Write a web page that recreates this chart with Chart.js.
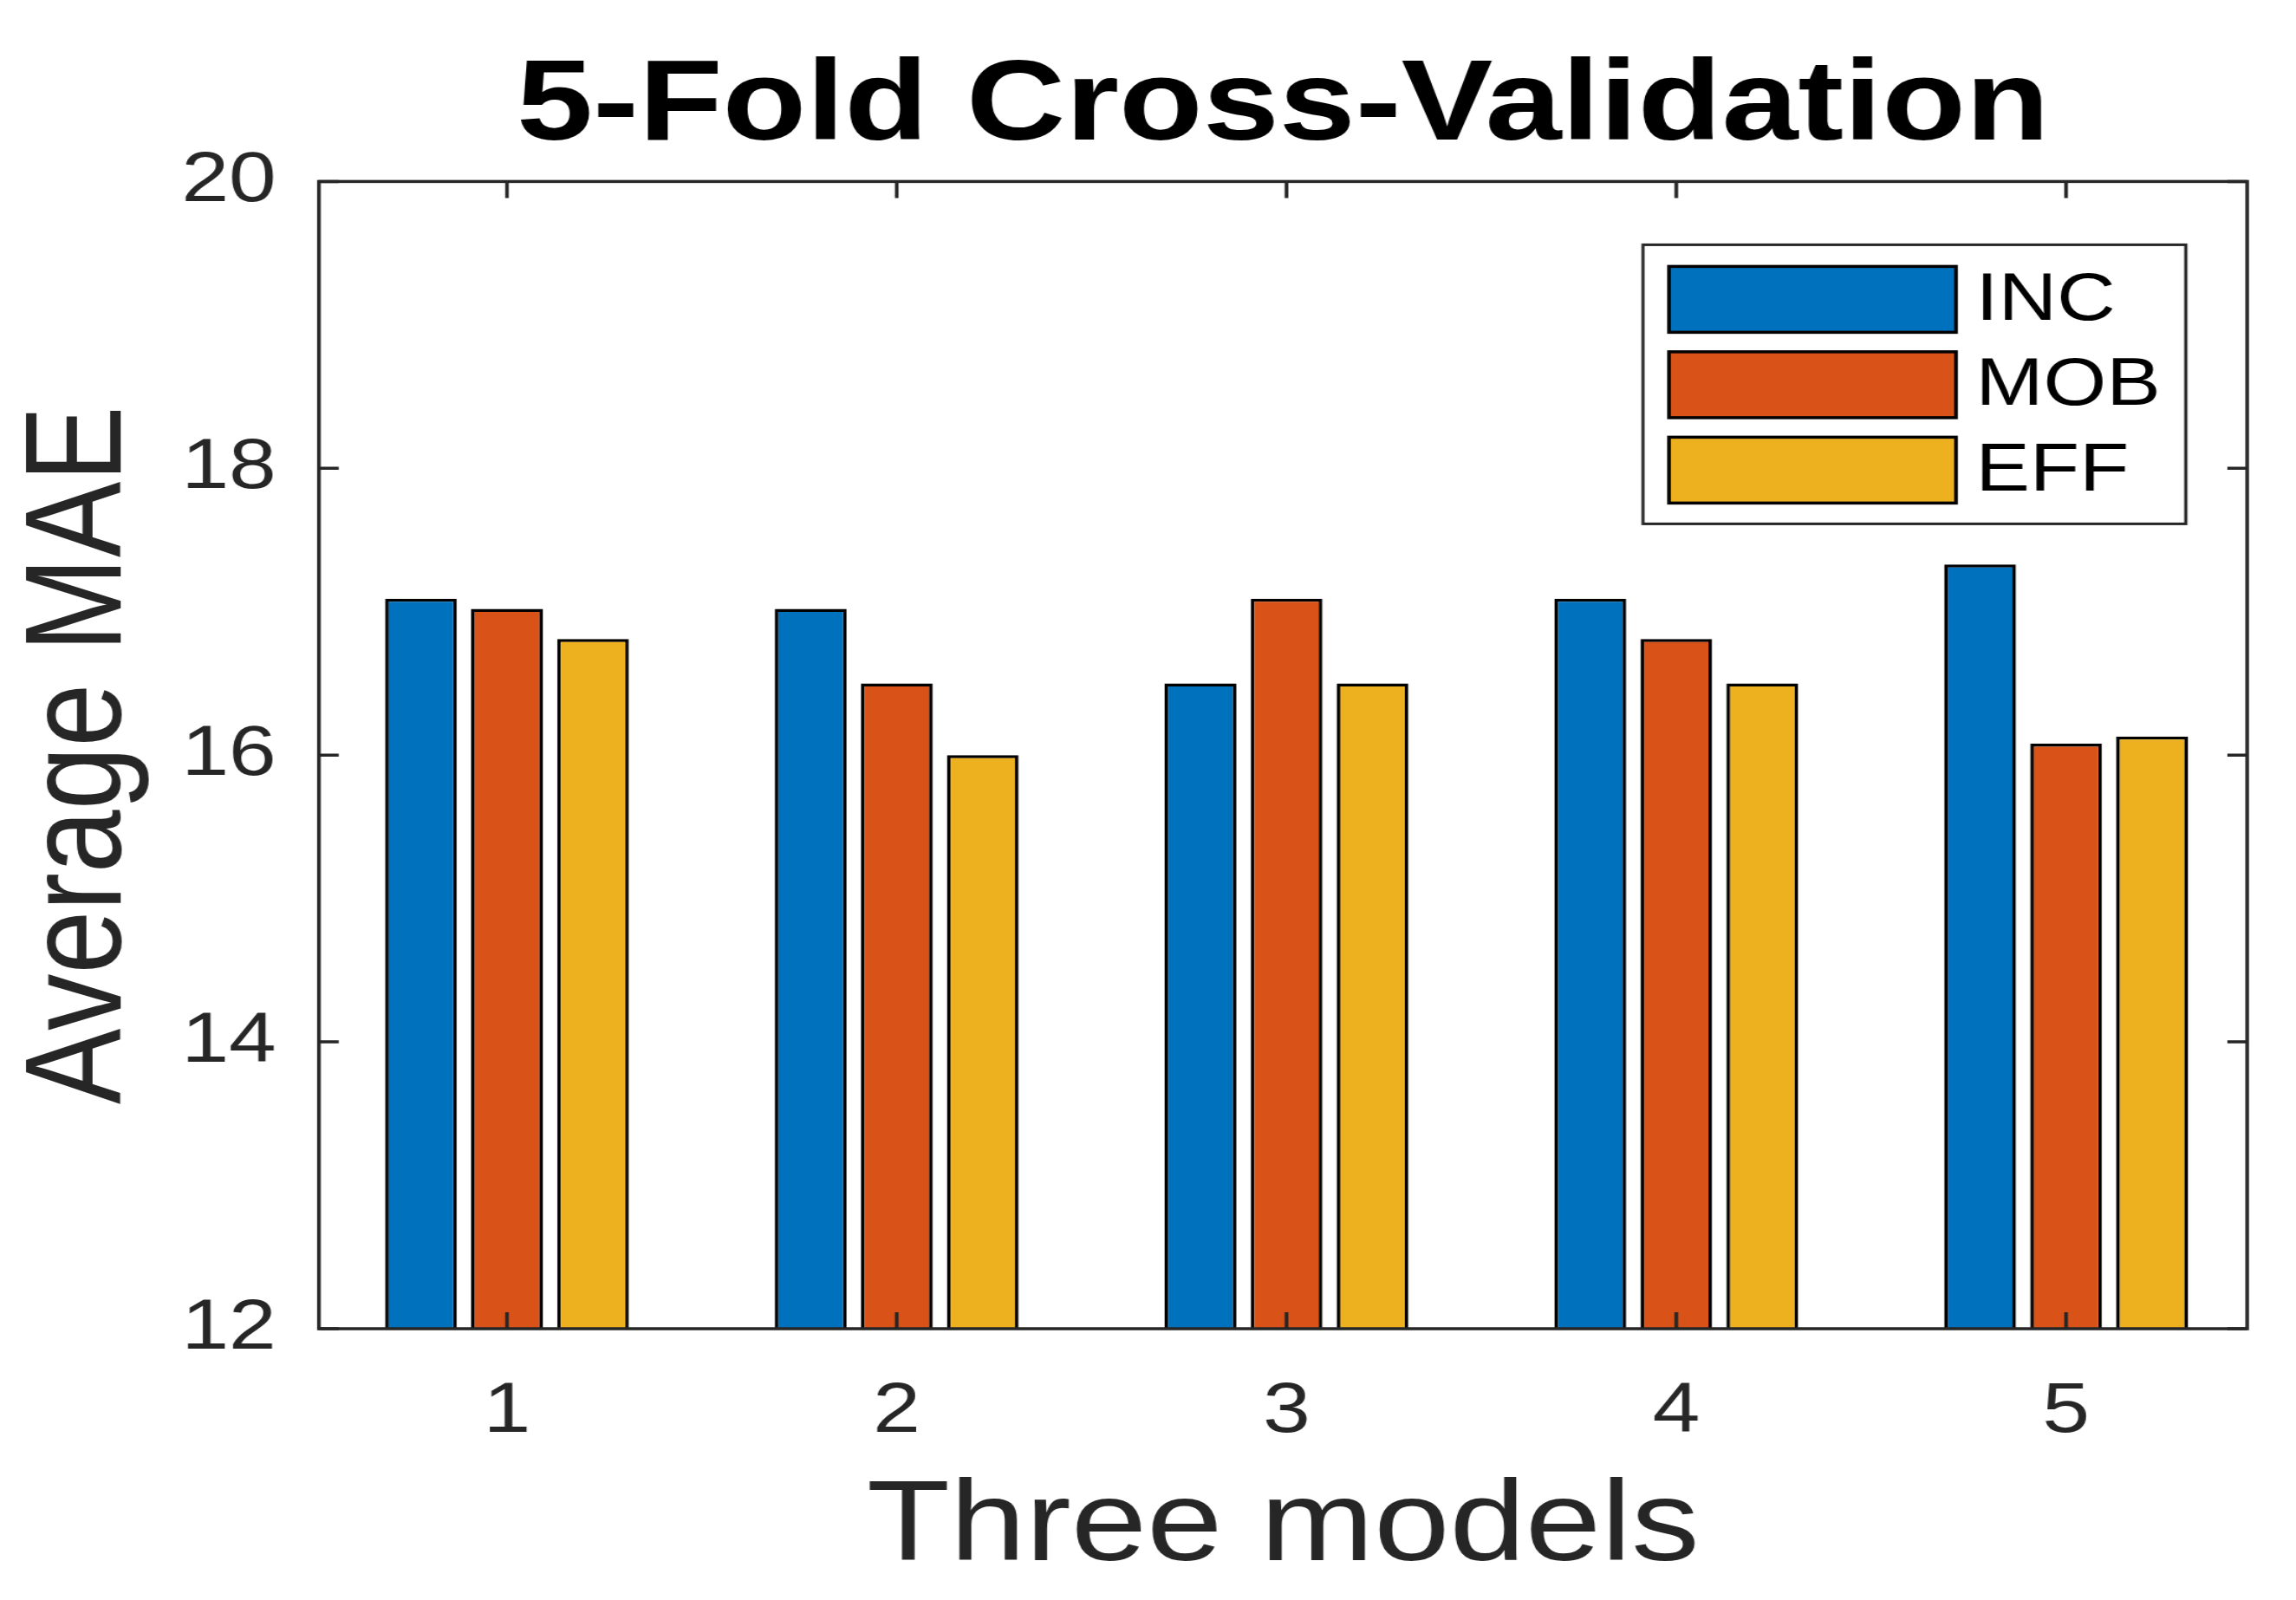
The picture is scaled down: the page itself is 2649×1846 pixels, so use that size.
<!DOCTYPE html>
<html>
<head>
<meta charset="utf-8">
<script src="https://cdn.jsdelivr.net/npm/chart.js@4.4.1/dist/chart.umd.min.js"></script>
<style>
    html, body { margin: 0; padding: 0; background: #fff; overflow: hidden; }
    /* the reference is stretched sideways, so draw narrower and stretch */
    #wrap { width: 2208px; height: 1846px; transform: scaleX(1.19973); transform-origin: 0 0; }
</style>
</head>
<body>
<div id="wrap"><canvas id="cv"></canvas></div>
<script>
// DATA
var folds = [1, 2, 3, 4, 5];
var incMae = [17.09, 17.02, 16.50, 17.09, 17.33];
var mobMae = [17.02, 16.50, 17.09, 16.81, 16.08];
var effMae = [16.81, 16.00, 16.50, 16.50, 16.13];
var seriesNames = ["INC", "MOB", "EFF"];
var seriesColors = ["#0072BD", "#D95319", "#EDB120"];
var yTicks = [12, 14, 16, 18, 20];

var FONT = "'Liberation Sans', Arial, Helvetica, sans-serif";
var AXIS = "#262626";
var TICK_LEN = 19;

function toPoints(values) {
    return folds.map(function (f, i) {
        return { x: f, y: values[i] };
    });
}

// BOX, INSIDE TICKS AND LEGEND
var matlabAxes = {
    id: "matlabAxes",
    afterDatasetsDraw: function (chart) {
        var ctx = chart.ctx;
        var a = chart.chartArea;
        var x = chart.scales.x;
        var y = chart.scales.y;
        ctx.save();
        ctx.strokeStyle = AXIS;
        ctx.lineWidth = 3.5;
        ctx.strokeRect(a.left, a.top, a.right - a.left, a.bottom - a.top);
        ctx.beginPath();
        folds.forEach(function (v) {
            var px = x.getPixelForValue(v);
            ctx.moveTo(px, a.bottom);
            ctx.lineTo(px, a.bottom - TICK_LEN);
            ctx.moveTo(px, a.top);
            ctx.lineTo(px, a.top + TICK_LEN);
        });
        yTicks.forEach(function (v) {
            var py = y.getPixelForValue(v);
            ctx.moveTo(a.left, py);
            ctx.lineTo(a.left + TICK_LEN, py);
            ctx.moveTo(a.right, py);
            ctx.lineTo(a.right - TICK_LEN, py);
        });
        ctx.stroke();

        // legend
        var right = a.right - 59;
        var left = right - 522;
        var top = a.top + 73;
        ctx.fillStyle = "#fff";
        ctx.fillRect(left, top, 522, 322);
        ctx.lineWidth = 3;
        ctx.strokeStyle = AXIS;
        ctx.strokeRect(left, top, 522, 322);
        ctx.font = "78px " + FONT;
        ctx.textBaseline = "middle";
        ctx.textAlign = "left";
        chart.data.datasets.forEach(function (ds, i) {
            var ry = top + 25 + i * 98.5;
            ctx.fillStyle = ds.backgroundColor;
            ctx.fillRect(left + 25, ry, 276, 76);
            ctx.lineWidth = 3.5;
            ctx.strokeStyle = "#000";
            ctx.strokeRect(left + 25, ry, 276, 76);
            ctx.fillStyle = "#000";
            ctx.fillText(ds.label, left + 25 + 276 + 19, ry + 40);
        });
        ctx.restore();
    },
};

var datasets = [incMae, mobMae, effMae].map(function (vals, i) {
    return {
        label: seriesNames[i],
        data: toPoints(vals),
        backgroundColor: seriesColors[i],
        borderColor: "#000",
        borderWidth: 3.5,
        borderSkipped: false,
        categoryPercentage: 0.662,
        barPercentage: 0.834,
    };
});

var chart = new Chart(document.getElementById("cv"), {
    type: "bar",
    data: { datasets: datasets },
    plugins: [matlabAxes],
    options: {
        responsive: true,
        maintainAspectRatio: false,
        animation: false,
        layout: { padding: { left: 0, right: 47, top: 0, bottom: 0 } },
        plugins: {
            legend: { display: false },
            tooltip: { enabled: false },
            title: {
                display: true,
                text: "5-Fold Cross-Validation",
                fullSize: false,
                color: "#000",
                font: { family: FONT, size: 132, weight: "bold", lineHeight: 1.2 },
                padding: { top: 45, bottom: 6 },
            },
        },
        scales: {
            x: {
                type: "linear",
                min: 0.5176,
                max: 5.4646,
                offset: false,
                grid: { display: false },
                border: { display: false },
                afterBuildTicks: function (scale) {
                    scale.ticks = folds.map(function (v) {
                        return { value: v };
                    });
                },
                afterFit: function (scale) {
                    scale.height = 313;
                },
                ticks: {
                    color: AXIS,
                    padding: 39,
                    maxRotation: 0,
                    font: { family: FONT, size: 82, lineHeight: 1.2 },
                },
                title: {
                    display: true,
                    text: "Three models",
                    color: AXIS,
                    font: { family: FONT, size: 131, lineHeight: 1 },
                    padding: { top: 0, bottom: 17 },
                },
            },
            y: {
                min: 12,
                max: 20,
                grid: { display: false },
                border: { display: false },
                afterBuildTicks: function (scale) {
                    scale.ticks = yTicks.map(function (v) {
                        return { value: v };
                    });
                },
                afterFit: function (scale) {
                    scale.width = 306.7;
                },
                ticks: {
                    color: AXIS,
                    padding: 33,
                    font: { family: FONT, size: 82, lineHeight: 1.2 },
                },
                title: {
                    display: true,
                    text: "Average MAE",
                    color: AXIS,
                    font: { family: FONT, size: 131, lineHeight: 1 },
                    padding: { top: 14, bottom: 0 },
                },
            },
        },
    },
});
</script>
</body>
</html>
